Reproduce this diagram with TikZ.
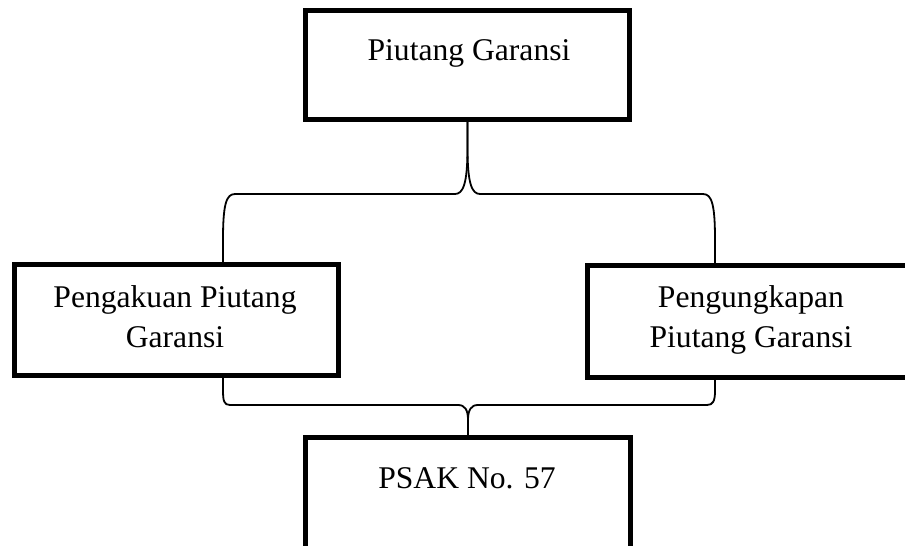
\documentclass[tikz,border=0pt]{standalone}
\usepackage{fontspec}
\setmainfont{Liberation Serif}

\newcommand*{\stemx}{467.5}
\newcommand*{\leftx}{223}
\newcommand*{\rightx}{715}

\begin{document}
\begin{tikzpicture}
[
	x=1pt,
	y=-1pt,
	box/.style={rectangle,draw,line width=5pt,inner sep=0pt},
	txt/.style={font=\fontsize{31.6}{40}\selectfont,align=center,inner sep=0pt},
	brace/.style={line width=1.8pt,line join=round}
]

	\useasboundingbox (0,0) rectangle (905,546);
	\clip (0,0) rectangle (905,546);

	% boxes
	\node[box,minimum width=324pt,minimum height=109pt] at (467.5,65) (piutang) {};
	\node[box,minimum width=324pt,minimum height=111pt] at (176.5,320) (pengakuan) {};
	\node[box,minimum width=326.5pt,minimum height=112pt] at (750.75,321.5) (pengungkapan) {};
	\node[box,minimum width=325pt,minimum height=182.5pt] at (468,528.75) (psak) {};

	% texts
	\node[txt,anchor=base] at (469,60) (piutang-txt) {Piutang Garansi};
	\node[txt,anchor=north] at (175,285.4) (pengakuan-txt) {Pengakuan Piutang\\Garansi};
	\node[txt,anchor=north] at (751,285.4) (pengungkapan-txt) {Pengungkapan\\Piutang Garansi};
	\node[txt,anchor=base] at (467,488) (psak-txt) {PSAK No. 57};

	% brace ends on the boxes
	\coordinate (lt) at (\leftx,264.5);
	\coordinate (rt) at (\rightx,265.5);
	\coordinate (lb) at (\leftx,375.5);
	\coordinate (rb) at (\rightx,377.5);

	% upper brace
	\draw[brace] (piutang.south) -- (\stemx,148) .. controls (\stemx,184) and (463,194) .. (455,194)
		-- (235,194) .. controls (226,194) and (\leftx,205) .. (\leftx,240) -- (lt);
	\draw[brace] (piutang.south) -- (\stemx,148) .. controls (\stemx,184) and (472,194) .. (480,194)
		-- (703,194) .. controls (712,194) and (\rightx,205) .. (\rightx,240) -- (rt);

	% lower brace
	\draw[brace] (lb) -- (\leftx,390) .. controls (\leftx,401) and (224,405) .. (230,405)
		-- (458,405) .. controls (465,405) and (468,410) .. (468,420) -- (psak.north);
	\draw[brace] (rb) -- (\rightx,391) .. controls (\rightx,401) and (713,405) .. (707,405)
		-- (478,405) .. controls (471,405) and (468,410) .. (468,420) -- (psak.north);

\end{tikzpicture}
\end{document}
